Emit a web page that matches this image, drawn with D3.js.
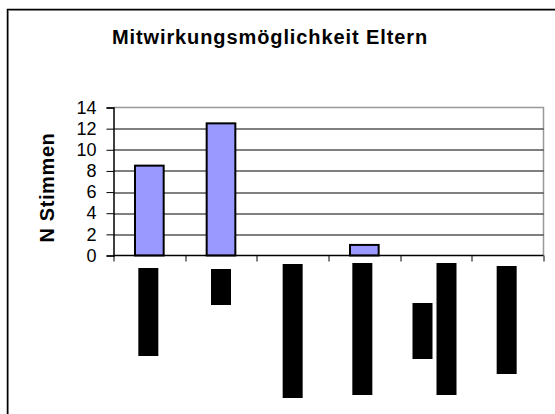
<!DOCTYPE html>
<html>
<head>
<meta charset="utf-8">
<script src="https://cdn.jsdelivr.net/npm/d3@7"></script>
<style>
  body { margin: 0; background: #fff; }
  text { font-family: Arial, "Liberation Sans", sans-serif; }
</style>
</head>
<body>
<div id="chart"></div>
<script>
(function(d3) {
    'use strict';

    // data
    var categories = ['K1', 'K2', 'K3', 'K4', 'K5', 'K6'];
    var values = [8.5, 12.5, 0, 1, 0, 0];
    var yTicks = [0, 2, 4, 6, 8, 10, 12, 14];
    var title = 'Mitwirkungsmöglichkeit Eltern';
    var yTitle = 'N Stimmen';

    // hidden (blacked out) category labels: one entry per text line [dx, top, bottom]
    var labelBlocks = [
        [[-1, 268, 356]],
        [[0, 269, 305]],
        [[0, 264, 398]],
        [[-2, 263, 395]],
        [[-13.5, 303, 359], [10.5, 263, 395]],
        [[-1, 266, 374]]
    ];

    var width = 555,
        height = 414;

    var margin = { top: 107.5, left: 113.5, right: 11.5, bottom: 158.5 };
    var plotW = width - margin.left - margin.right,
        plotH = height - margin.top - margin.bottom;

    var svg = d3.select('#chart').append('svg')
        .attr('width', width)
        .attr('height', height);

    // outer chart frame (runs off the page to the right and bottom)
    svg.append('path')
        .attr('d', 'M8.5,' + height + 'V10.5H' + width)
        .attr('fill', 'none')
        .attr('stroke', '#aaa')
        .attr('stroke-width', 1);
    svg.append('path')
        .attr('d', 'M7.5,' + height + 'V9.5H' + width)
        .attr('fill', 'none')
        .attr('stroke', '#000')
        .attr('stroke-width', 1.5);

    svg.append('text')
        .attr('x', 270)
        .attr('y', 44)
        .attr('text-anchor', 'middle')
        .style('font-size', '20px')
        .style('font-weight', 'bold')
        .style('letter-spacing', '0.9px')
        .text(title);

    var g = svg.append('g')
        .attr('transform', 'translate(' + margin.left + ',' + margin.top + ')');

    var x = d3.scaleBand()
        .domain(categories)
        .range([0, plotW])
        .padding(0);

    var y = d3.scaleLinear()
        .domain([0, 14])
        .range([plotH, 0]);

    // plot frame top / right (gray)
    g.append('path')
        .attr('d', 'M0,0H' + plotW + 'V' + plotH)
        .attr('fill', 'none')
        .attr('stroke', '#999')
        .attr('stroke-width', 1.5);

    // gridlines
    g.selectAll('.grid')
        .data(yTicks.filter(function(d) { return d > 0 && d < 14; }))
        .enter()
        .append('line')
        .attr('class', 'grid')
        .attr('x1', 0)
        .attr('x2', plotW)
        .attr('y1', function(d) { return Math.round(y(d)) + 0.5; })
        .attr('y2', function(d) { return Math.round(y(d)) + 0.5; })
        .attr('stroke', '#000')
        .attr('stroke-width', 1);

    // bars
    var barW = x.bandwidth() * 0.4;
    g.selectAll('.bar')
        .data(categories.map(function(c, i) { return { cat: c, value: values[i] }; })
            .filter(function(d) { return d.value > 0; }))
        .enter()
        .append('rect')
        .attr('class', 'bar')
        .attr('x', function(d) { return x(d.cat) + (x.bandwidth() - barW) / 2; })
        .attr('y', function(d) { return y(d.value); })
        .attr('width', barW)
        .attr('height', function(d) { return plotH - y(d.value); })
        .attr('fill', '#9999ff')
        .attr('stroke', '#000')
        .attr('stroke-width', 2);

    // y axis
    var yAxis = g.append('g')
        .call(d3.axisLeft(y).tickValues(yTicks).tickSize(7).tickPadding(10));
    yAxis.select('.domain').attr('stroke', '#000').attr('stroke-width', 1.5);
    yAxis.selectAll('.tick line').attr('stroke', '#000');
    yAxis.selectAll('text')
        .style('font-size', '18px')
        .style('font-family', 'Arial, "Liberation Sans", sans-serif')
        .attr('fill', '#000');

    // x axis: ticks on band boundaries
    var xAxis = g.append('g')
        .attr('transform', 'translate(0,' + plotH + ')');
    xAxis.append('line')
        .attr('x1', 0).attr('x2', plotW)
        .attr('stroke', '#000').attr('stroke-width', 1.5);
    xAxis.selectAll('.xtick')
        .data(categories.concat(['end']))
        .enter()
        .append('line')
        .attr('class', 'xtick')
        .attr('x1', function(d, i) { return Math.round(i * x.step()) + 0.5; })
        .attr('x2', function(d, i) { return Math.round(i * x.step()) + 0.5; })
        .attr('y1', 0)
        .attr('y2', 6)
        .attr('stroke', '#000');

    // blacked out category labels
    categories.forEach(function(c, i) {
        var cx = margin.left + x(c) + x.bandwidth() / 2;
        labelBlocks[i].forEach(function(b) {
            svg.append('rect')
                .attr('x', cx + b[0] - 10)
                .attr('y', b[1])
                .attr('width', 20)
                .attr('height', b[2] - b[1])
                .attr('fill', '#000');
        });
    });

    // y axis title
    svg.append('text')
        .attr('transform', 'translate(54,187.5) rotate(-90)')
        .attr('text-anchor', 'middle')
        .style('font-size', '20px')
        .style('font-weight', 'bold')
        .style('letter-spacing', '0.6px')
        .text(yTitle);

})(window.d3);
</script>
</body>
</html>
